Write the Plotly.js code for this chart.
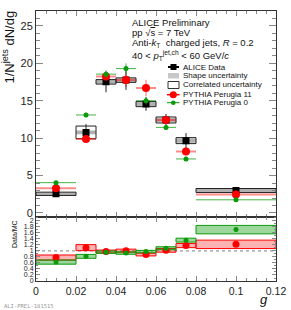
<!DOCTYPE html>
<html><head><meta charset="utf-8">
<script src="https://cdn.plot.ly/plotly-3.0.1.min.js"></script>
<style>html,body{margin:0;padding:0;background:#fff}#c{width:291px;height:310px}</style>
</head><body><div id="c"></div>
<script>
// ---- data ----
const binCenters = [0.01, 0.025, 0.035, 0.045, 0.055, 0.065, 0.075, 0.1];
const binHalfWidths = [0.01, 0.005, 0.005, 0.005, 0.005, 0.005, 0.005, 0.02];
const dataVals = [2.56, 10.77, 17.53, 17.76, 14.56, 12.43, 9.67, 3.0];
const dataStat = [0.15, 1.1, 1.4, 1.3, 0.9, 0.8, 1.0, 0.2];
const dataShape = [0.18, 0.25, 0.25, 0.25, 0.3, 0.3, 0.3, 0.2];
const dataCorr = [0.22, 0.85, 0.3, 0.3, 0.35, 0.4, 0.4, 0.27];
const p11Vals = [3.3, 9.9, 18.24, 17.76, 16.7, 12.43, 8.2, 2.47];
const p11Stat = [0.1, 0.3, 0.6, 0.9, 1.1, 0.6, 0.4, 0.1];
const p0Vals = [4.05, 13.1, 18.56, 19.3, 15.0, 11.44, 7.22, 1.76];
const p0Stat = [0.15, 0.3, 0.5, 0.7, 0.5, 0.3, 0.3, 0.1];
const ratio11 = [0.78, 1.11, 0.98, 1.01, 0.88, 1.02, 1.18, 1.22];
const ratio11Err = [0.05, 0.08, 0.05, 0.05, 0.05, 0.05, 0.06, 0.06];
const ratio11Box = [0.085, 0.1, 0.05, 0.05, 0.045, 0.06, 0.07, 0.14];
const ratio0 = [0.63, 0.82, 0.96, 0.93, 0.98, 1.09, 1.36, 1.71];
const ratio0Err = [0.05, 0.05, 0.04, 0.05, 0.04, 0.05, 0.06, 0.07];
const ratio0Box = [0.07, 0.065, 0.04, 0.04, 0.04, 0.05, 0.065, 0.14];
const xTickVals = [0, 0.02, 0.04, 0.06, 0.08, 0.1, 0.12];
const xTickText = ["0", "0.02", "0.04", "0.06", "0.08", "0.1", "0.12"];

const RED = '#ff0000', GREEN = '#0a9a0a';
const widths = binHalfWidths.map(h => 2 * h);
function boxTrace(vals, half, xa, ya, fill, lineColor, lw) {
  return {type: 'bar', x: binCenters, width: widths,
    base: vals.map((v, i) => v - half[i]), y: half.map(h => 2 * h),
    xaxis: xa, yaxis: ya, marker: {color: fill, line: {color: lineColor, width: lw}},
    hoverinfo: 'skip', showlegend: false};
}
function ptsTrace(vals, err, xa, ya, color, size, symbol, xerrColor, xerrW, yerrColor) {
  const t = {type: 'scatter', mode: 'markers', x: binCenters, y: vals, xaxis: xa, yaxis: ya,
    marker: {color: color, size: size, symbol: symbol},
    error_y: {type: 'data', array: err, visible: true, color: yerrColor, thickness: 1, width: 0},
    hoverinfo: 'skip', showlegend: false};
  if (xerrColor) t.error_x = {type: 'data', array: binHalfWidths, visible: true, color: xerrColor, thickness: xerrW, width: 0};
  return t;
}

const traces = [
  boxTrace(dataVals, dataShape, 'x', 'y', 'rgba(150,150,150,0.75)', 'rgba(0,0,0,0)', 0),
  boxTrace(dataVals, dataCorr, 'x', 'y', 'rgba(0,0,0,0)', '#222', 1),
  ptsTrace(dataVals, dataStat, 'x', 'y', '#000', 7, 'square', null, 0, '#222'),
  ptsTrace(p11Vals, p11Stat, 'x', 'y', RED, 8, 'circle', 'rgba(255,0,0,0.45)', 2, 'rgba(255,0,0,0.6)'),
  ptsTrace(p0Vals, p0Stat, 'x', 'y', GREEN, 5, 'circle', 'rgba(10,154,10,0.75)', 1, 'rgba(10,154,10,0.75)'),
  boxTrace(ratio11, ratio11Box, 'x2', 'y2', 'rgba(255,0,0,0.3)', RED, 1),
  boxTrace(ratio0, ratio0Box, 'x2', 'y2', 'rgba(10,154,10,0.4)', GREEN, 1),
  ptsTrace(ratio11, ratio11Err, 'x2', 'y2', RED, 7, 'circle', null, 0, RED),
  ptsTrace(ratio0, ratio0Err, 'x2', 'y2', GREEN, 5, 'circle', null, 0, GREEN)
];

// ---- layout helpers (pixel -> paper) ----
const W = 291, H = 310, ML = 36, MR = 15, MT = 11, MB = 29;
const PW = W - ML - MR, PH = H - MT - MB;
const px = p => (p - ML) / PW, py = p => (H - MB - p) / PH;

const axisCommon = {showline: true, linecolor: '#333', linewidth: 1, mirror: 'allticks',
  ticks: 'inside', tickcolor: '#888', zeroline: false, showgrid: false};
const FONT = 'Liberation Sans, Arial, sans-serif';

const shapes = [
  {type: 'line', xref: 'x2 domain', yref: 'y2', x0: 0, x1: 1, y0: 1, y1: 1,
   line: {color: '#999', width: 1.2, dash: 'dot'}, layer: 'below'},
  // legend symbols
  {type: 'line', xref: 'paper', yref: 'paper', x0: px(168), x1: px(179), y0: py(67), y1: py(67), line: {color: '#000', width: 2}},
  {type: 'rect', xref: 'paper', yref: 'paper', x0: px(170.5), x1: px(176.5), y0: py(64), y1: py(70), fillcolor: '#000', line: {width: 0}},
  {type: 'rect', xref: 'paper', yref: 'paper', x0: px(168), x1: px(179), y0: py(73), y1: py(78.5), fillcolor: '#c8c8c8', line: {width: 0}},
  {type: 'rect', xref: 'paper', yref: 'paper', x0: px(168), x1: px(179), y0: py(81.5), y1: py(88.5), fillcolor: '#fff', line: {color: '#333', width: 1}},
  {type: 'line', xref: 'paper', yref: 'paper', x0: px(167), x1: px(179.5), y0: py(94.7), y1: py(94.7), line: {color: RED, width: 1.5}},
  {type: 'circle', xref: 'paper', yref: 'paper', x0: px(169.8), x1: px(176.8), y0: py(91.2), y1: py(98.2), fillcolor: RED, line: {width: 0}},
  {type: 'line', xref: 'paper', yref: 'paper', x0: px(167), x1: px(179.5), y0: py(102.7), y1: py(102.7), line: {color: GREEN, width: 1}},
  {type: 'circle', xref: 'paper', yref: 'paper', x0: px(171), x1: px(175.6), y0: py(100.4), y1: py(105), fillcolor: GREEN, line: {width: 0}}
];

function ann(text, xp, yp, size, opts) {
  return Object.assign({text: text, xref: 'paper', yref: 'paper', x: px(xp), y: py(yp),
    xanchor: 'left', yanchor: 'middle', showarrow: false, font: {size: size, color: '#111', family: FONT}}, opts || {});
}
const annotations = [
  ann('ALICE Preliminary', 130, 22.3, 9.5),
  ann('pp √<span style="text-decoration:overline">s</span> = 7 TeV', 130, 32.7, 9.5),
  ann('Anti-<i>k</i><sub>T</sub>  charged jets, <i>R</i> = 0.2', 130, 43.5, 9.5),
  ann('40 &lt; <i>p</i><sub>T</sub><sup>jet,ch</sup> &lt; 60 GeV/<i>c</i>', 130, 55, 9.5),
  ann('ALICE Data', 180.5, 67, 8),
  ann('Shape uncertainty', 180.5, 75.8, 8),
  ann('Correlated uncertainty', 180.5, 85, 8),
  ann('PYTHIA Perugia 11', 180.5, 94.7, 8),
  ann('PYTHIA Perugia 0', 180.5, 102.7, 8),
  ann('1/N<sup>jets</sup> dN/dg', 8, 9, 13, {textangle: -90, xanchor: 'center', yanchor: 'top'}),
  ann('Data/MC', 15, 218, 7, {textangle: -90, xanchor: 'center', yanchor: 'top'}),
  ann('<i>g</i>', 264, 299.5, 13, {xanchor: 'center', yanchor: 'middle', borderpad: 0}),
  ann('ALI-PREL-101515', 2, 306, 5.5, {font: {size: 5.5, color: '#999', family: 'DejaVu Sans Mono, monospace'}})
];

const layout = {
  width: W, height: H, margin: {l: ML, r: MR, t: MT, b: MB, pad: 0},
  paper_bgcolor: '#fff', plot_bgcolor: '#fff', showlegend: false, barmode: 'overlay',
  font: {family: FONT, color: '#222'},
  xaxis: Object.assign({}, axisCommon, {range: [0, 0.12], anchor: 'y', showticklabels: false,
    tickvals: xTickVals, ticklen: 5, minor: {dtick: 0.005, ticklen: 3, tickcolor: '#888', ticks: 'inside'}}),
  yaxis: Object.assign({}, axisCommon, {domain: [py(216.7), 1], range: [-0.5, 27], anchor: 'x',
    dtick: 5, tick0: 0, ticklen: 7, tickfont: {size: 11, color: '#222'},
    minor: {dtick: 1, ticklen: 4, tickcolor: '#888', ticks: 'inside'}}),
  xaxis2: Object.assign({}, axisCommon, {range: [0, 0.12], anchor: 'y2', matches: 'x',
    tickvals: xTickVals, ticktext: xTickText, ticklen: 5, tickfont: {size: 10.5, color: '#222'},
    minor: {dtick: 0.005, ticklen: 3, tickcolor: '#888', ticks: 'inside'}}),
  yaxis2: Object.assign({}, axisCommon, {domain: [0, py(216.7)], range: [0, 2.14], anchor: 'x2',
    dtick: 0.2, tick0: 0, ticklen: 4, tickfont: {size: 7, color: '#222'},
    minor: {dtick: 0.1, ticklen: 2, tickcolor: '#888', ticks: 'inside'}}),
  shapes: shapes, annotations: annotations
};
Plotly.newPlot('c', traces, layout, {staticPlot: true, displayModeBar: false});
</script></body></html>
